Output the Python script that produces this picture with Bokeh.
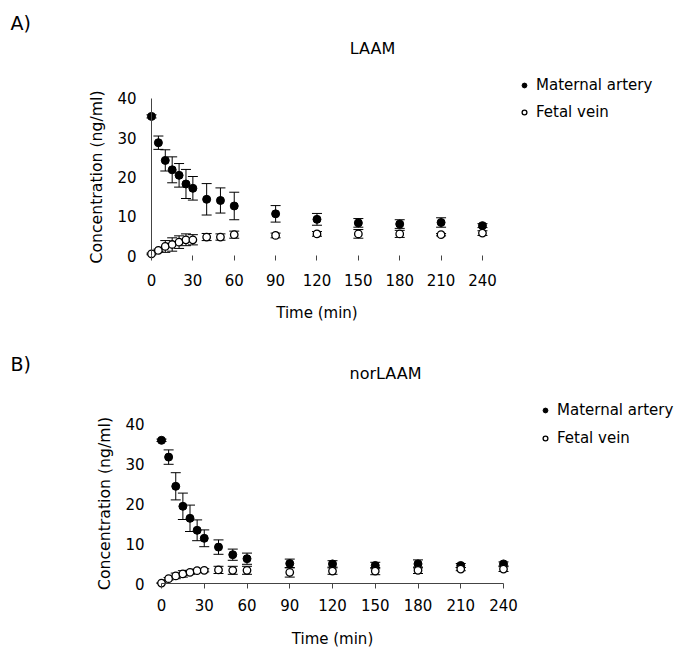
from bokeh.plotting import figure
from bokeh.layouts import column
from bokeh.models import (ColumnDataSource, Whisker, TeeHead, Legend, LegendItem,
                          Label, Range1d, SingleIntervalTicker)
from bokeh.embed import file_html
from bokeh.resources import INLINE

FONT = "DejaVu Sans"

# ---- data -------------------------------------------------------------
time_min = [0, 5, 10, 15, 20, 25, 30, 40, 50, 60, 90, 120, 150, 180, 210, 240]

laam_maternal = [35.4, 28.7, 24.2, 21.8, 20.4, 18.2, 17.1, 14.3, 14.0, 12.6, 10.6, 9.2, 8.3, 8.0, 8.4, 7.6]
laam_maternal_err = [0.4, 1.7, 2.7, 3.3, 3.0, 3.7, 3.0, 4.0, 3.2, 3.5, 2.1, 1.5, 1.1, 1.1, 1.2, 0.5]
laam_fetal = [0.4, 1.3, 2.3, 2.8, 3.4, 4.0, 4.0, 4.7, 4.7, 5.3, 5.1, 5.5, 5.5, 5.5, 5.3, 5.7]
laam_fetal_err = [0.2, 0.3, 1.5, 1.7, 1.6, 1.5, 1.3, 0.9, 0.8, 0.9, 0.6, 0.6, 1.1, 0.9, 0.3, 0.6]

nor_maternal = [35.8, 31.6, 24.3, 19.3, 16.3, 13.3, 11.3, 9.1, 7.2, 6.2, 5.0, 4.9, 4.5, 4.9, 4.5, 4.9]
nor_maternal_err = [0.3, 1.8, 3.4, 3.3, 3.3, 2.6, 2.1, 1.8, 1.4, 1.4, 1.1, 0.8, 0.8, 1.0, 0.5, 0.5]
nor_fetal = [0.1, 1.2, 1.9, 2.4, 2.8, 3.2, 3.3, 3.4, 3.3, 3.3, 2.8, 3.1, 3.1, 3.3, 3.6, 3.6]
nor_fetal_err = [0.1, 0.3, 0.7, 0.8, 0.5, 0.4, 0.4, 0.9, 1.0, 1.0, 1.2, 0.8, 0.9, 0.8, 0.4, 0.6]

series_names = ["Maternal artery", "Fetal vein"]
x_ticks_interval = 30
y_ticks_interval = 10
x_label = "Time (min)"
y_label = "Concentration (ng/ml)"

W = 677


def src(vals, errs):
    return ColumnDataSource(dict(
        t=time_min, v=vals,
        lo=[a - b for a, b in zip(vals, errs)],
        hi=[a + b for a, b in zip(vals, errs)],
    ))


def panel(letter, title, mat, mat_err, fet, fet_err, c):
    h = c["h"]
    # frame fills the whole canvas; axes sit at data 0 via fixed_location
    x0, y0, sx, sy = c["ax_x"], c["ax_y"], c["px_per_min"], c["px_per_unit"]
    p = figure(width=W, height=h, output_backend="svg", toolbar_location=None,
               x_range=Range1d(-x0 / sx, (W - x0) / sx),
               y_range=Range1d((y0 - h) / sy, y0 / sy),
               min_border=0)
    p.outline_line_color = None
    p.grid.visible = False
    p.background_fill_color = "white"
    p.border_fill_color = "white"

    for ax in (p.xaxis[0], p.yaxis[0]):
        ax.fixed_location = 0
        ax.major_label_text_font = FONT
        ax.major_label_text_font_size = "15px"
        ax.major_label_text_color = "black"
        ax.minor_tick_line_color = None
        ax.axis_line_color = "#444444"
        ax.major_tick_line_color = "#444444"

    p.xaxis.ticker = SingleIntervalTicker(interval=x_ticks_interval)
    p.yaxis.ticker = SingleIntervalTicker(interval=y_ticks_interval)
    p.xaxis.bounds = (0, 240)
    p.yaxis.bounds = (0, 40)
    p.xaxis.major_tick_in = 0
    p.xaxis.major_tick_out = 5
    p.xaxis.major_label_standoff = c["xstand"]
    p.yaxis.major_tick_in = 0
    p.yaxis.major_tick_out = 0
    p.yaxis.major_label_standoff = c["ystand"]
    p.yaxis.axis_label = y_label
    p.yaxis.axis_label_text_font = FONT
    p.yaxis.axis_label_text_font_size = "15.7px"
    p.yaxis.axis_label_text_font_style = "normal"
    p.yaxis.axis_label_text_color = "black"
    p.yaxis.axis_label_standoff = c["ylabstand"]
    if not c["xline"]:
        p.xaxis.axis_line_color = None
    if not c["yline"]:
        p.yaxis.axis_line_color = None

    sm = src(mat, mat_err)
    sf = src(fet, fet_err)
    for s in (sm, sf):
        w = Whisker(source=s, base="t", lower="lo", upper="hi", dimension="height",
                    line_color="black", line_width=1,
                    lower_head=TeeHead(size=10, line_color="black", line_width=1),
                    upper_head=TeeHead(size=10, line_color="black", line_width=1),
                    level="underlay")
        p.add_layout(w)

    rm = p.scatter("t", "v", source=sm, size=8, marker="circle",
                   fill_color="black", line_color="black")
    rf = p.scatter("t", "v", source=sf, size=7.5, marker="circle",
                   fill_color="white", line_color="black", line_width=1.3)

    leg = Legend(items=[LegendItem(label=series_names[0], renderers=[rm]),
                        LegendItem(label=series_names[1], renderers=[rf])],
                 location=c["legloc"], padding=0, margin=0, spacing=c["legsp"],
                 glyph_width=12, glyph_height=20, label_height=20, label_standoff=6,
                 border_line_color=None, background_fill_alpha=0,
                 label_text_font=FONT, label_text_font_size="15px",
                 label_text_color="black")
    p.add_layout(leg)

    p.add_layout(Label(x=c["letter"][0], y=c["letter"][1], x_units="screen", y_units="screen",
                       text=letter, text_font=FONT, text_font_size="19px", text_color="black",
                       text_baseline="middle", text_align="left"))
    p.add_layout(Label(x=c["title"][0], y=c["title"][1], x_units="screen", y_units="screen",
                       text=title, text_font=FONT, text_font_size="16px", text_color="black",
                       text_baseline="middle", text_align="center"))
    p.add_layout(Label(x=120, y=c["xlab_y"], x_units="data", y_units="screen",
                       text=x_label, text_font=FONT, text_font_size="15px", text_color="black",
                       text_baseline="middle", text_align="center"))
    return p


cfgA = dict(h=328, ax_x=151, ax_y=255, px_per_min=1.379, px_per_unit=3.93,
            xstand=13, ystand=11, ylabstand=8, xline=False, yline=True,
            legloc=(518, 206), legsp=7, letter=(10, 306), title=(372, 280), xlab_y=16)
cfgB = dict(h=320, ax_x=161, ax_y=255, px_per_min=1.425, px_per_unit=4.0,
            xstand=10, ystand=13, ylabstand=8, xline=True, yline=False,
            legloc=(539, 200), legsp=8, letter=(10, 285), title=(385, 275), xlab_y=10)

pA = panel("A)", "LAAM", laam_maternal, laam_maternal_err, laam_fetal, laam_fetal_err, cfgA)
pB = panel("B)", "norLAAM", nor_maternal, nor_maternal_err, nor_fetal, nor_fetal_err, cfgB)

layout = column(pA, pB, spacing=0)
open("out.html", "w").write(file_html(layout, INLINE))
